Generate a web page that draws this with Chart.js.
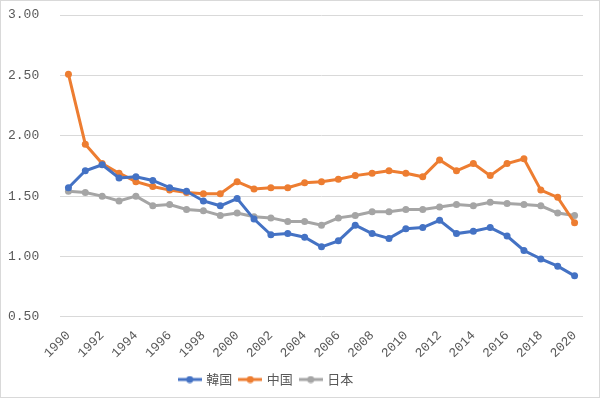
<!DOCTYPE html>
<html>
<head>
<meta charset="utf-8">
<script src="https://cdn.jsdelivr.net/npm/chart.js@4.4.0/dist/chart.umd.min.js"></script>
<style>
  html, body { margin: 0; padding: 0; background: #fff; }
  #wrap { width: 600px; height: 398px; box-sizing: border-box; border: 1px solid #d9d9d9; }
  #chart { display: block; }
</style>
</head>
<body>
<div id="wrap"><canvas id="chart" width="598" height="396"></canvas></div>
<script>
const years = ['1990','1991','1992','1993','1994','1995','1996','1997','1998','1999','2000',
  '2001','2002','2003','2004','2005','2006','2007','2008','2009','2010',
  '2011','2012','2013','2014','2015','2016','2017','2018','2019','2020'];

const korea = [1.57, 1.71, 1.76, 1.65, 1.66, 1.63, 1.57, 1.54, 1.46, 1.42, 1.48,
  1.31, 1.18, 1.19, 1.16, 1.08, 1.13, 1.26, 1.19, 1.15, 1.23,
  1.24, 1.30, 1.19, 1.21, 1.24, 1.17, 1.05, 0.98, 0.92, 0.84];

const china = [2.51, 1.93, 1.77, 1.69, 1.62, 1.58, 1.55, 1.53, 1.52, 1.52, 1.62,
  1.56, 1.57, 1.57, 1.61, 1.62, 1.64, 1.67, 1.69, 1.71, 1.69,
  1.66, 1.80, 1.71, 1.77, 1.67, 1.77, 1.81, 1.55, 1.49, 1.28];

const japan = [1.54, 1.53, 1.50, 1.46, 1.50, 1.42, 1.43, 1.39, 1.38, 1.34, 1.36,
  1.33, 1.32, 1.29, 1.29, 1.26, 1.32, 1.34, 1.37, 1.37, 1.39,
  1.39, 1.41, 1.43, 1.42, 1.45, 1.44, 1.43, 1.42, 1.36, 1.34];

const seriesNames = ['韓国', '中国', '日本'];
const colors = ['#4472C4', '#ED7D31', '#A5A5A5'];

// legend marker: short line with a dot in the middle
function legendMarker(color) {
    const c = document.createElement('canvas');
    c.width = 24;
    c.height = 8;
    const g = c.getContext('2d');
    g.strokeStyle = color;
    g.lineWidth = 3;
    g.beginPath();
    g.moveTo(0, 4);
    g.lineTo(24, 4);
    g.stroke();
    g.fillStyle = color;
    g.beginPath();
    g.arc(12, 4, 3.5, 0, Math.PI * 2);
    g.fill();
    return c;
}

function makeDataset(name, data, color) {
    return {
        label: name,
        data: data,
        borderColor: color,
        backgroundColor: color,
        borderWidth: 3,
        pointRadius: 3.5,
        pointHoverRadius: 3.5,
        pointBorderWidth: 0,
        tension: 0,
        fill: false
    };
}

// the legend in the original sits left of centre
const shiftLegend = {
    id: 'shiftLegend',
    afterLayout: function(chart) {
        chart.legend.right = chart.legend.right - 58;
    }
};

const tickFont = { family: '"Liberation Mono", "DejaVu Sans Mono", monospace', size: 13 };

const ctx = document.getElementById('chart').getContext('2d');
const fertilityChart = new Chart(ctx, {
    type: 'line',
    data: {
        labels: years,
        datasets: [
            makeDataset(seriesNames[0], korea, colors[0]),
            makeDataset(seriesNames[1], china, colors[1]),
            makeDataset(seriesNames[2], japan, colors[2])
        ]
    },
    plugins: [shiftLegend],
    options: {
        responsive: false,
        animation: false,
        layout: { padding: { left: 7, right: 16, top: 14, bottom: 1 } },
        plugins: {
            tooltip: { enabled: false },
            legend: {
                position: 'bottom',
                labels: {
                    usePointStyle: true,
                    pointStyleWidth: 20,
                    padding: 8,
                    color: '#595959',
                    font: { family: '"Noto Sans CJK JP", sans-serif', size: 13 },
                    generateLabels: function(chart) {
                        return chart.data.datasets.map(function(ds, i) {
                            return {
                                text: ds.label,
                                fontColor: '#595959',
                                pointStyle: legendMarker(colors[i]),
                                datasetIndex: i,
                                lineWidth: 0,
                                strokeStyle: colors[i],
                                fillStyle: colors[i]
                            };
                        });
                    }
                }
            }
        },
        scales: {
            x: {
                offset: true,
                afterFit: function(scale) { scale.height = scale.height - 7; },
                grid: { display: false, drawTicks: false },
                border: { display: false },
                ticks: {
                    autoSkip: false,
                    maxRotation: 45,
                    minRotation: 45,
                    padding: 11,
                    color: '#595959',
                    font: tickFont,
                    callback: function(value, index) {
                        return index % 2 === 0 ? years[index] : null;
                    }
                }
            },
            y: {
                min: 0.5,
                max: 3.0,
                afterFit: function(scale) { scale.width = 52; },
                grid: { color: '#D9D9D9', lineWidth: 1, drawTicks: false },
                border: { display: false },
                ticks: {
                    stepSize: 0.5,
                    padding: 0,
                    crossAlign: 'far',
                    color: '#595959',
                    font: tickFont,
                    callback: function(value) { return value.toFixed(2); }
                }
            }
        }
    }
});
</script>
</body>
</html>
